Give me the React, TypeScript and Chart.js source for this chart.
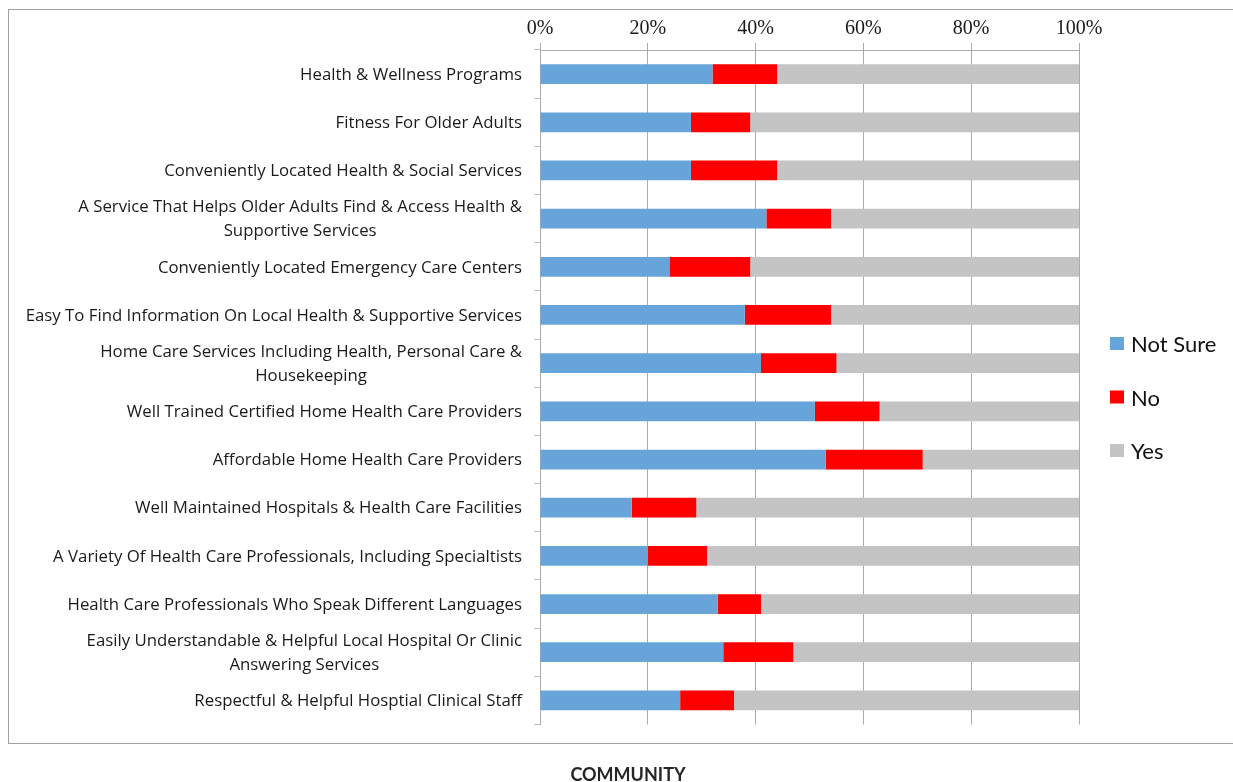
import React, { useEffect, useRef } from 'react';
import { Chart, registerables } from 'chart.js';

Chart.register(...registerables);

const categories: string[][] = [
  ['Health & Wellness Programs'],
  ['Fitness For Older Adults'],
  ['Conveniently Located Health & Social Services'],
  ['A Service That Helps Older Adults Find & Access Health &', 'Supportive Services'],
  ['Conveniently Located Emergency Care Centers'],
  ['Easy To Find Information On Local Health & Supportive Services'],
  ['Home Care Services Including Health, Personal Care &', 'Housekeeping'],
  ['Well Trained Certified Home Health Care Providers'],
  ['Affordable Home Health Care Providers'],
  ['Well Maintained Hospitals & Health Care Facilities'],
  ['A Variety Of Health Care Professionals, Including Specialtists'],
  ['Health Care Professionals Who Speak Different Languages'],
  ['Easily Understandable & Helpful Local Hospital Or Clinic', 'Answering Services'],
  ['Respectful & Helpful Hosptial Clinical Staff'],
];

const notSure = [32, 28, 28, 42, 24, 38, 41, 51, 53, 17, 20, 33, 34, 26];
const no = [12, 11, 16, 12, 15, 16, 14, 12, 18, 12, 11, 8, 13, 10];
const yes = [56, 61, 56, 46, 61, 46, 45, 37, 29, 71, 69, 59, 53, 64];

const xTicks = [0, 20, 40, 60, 80, 100];
const seriesNames = ['Not Sure', 'No', 'Yes'];
const seriesColors = ['#67A4D9', '#FF0000', '#C4C4C4'];
const chartTitle = 'COMMUNITY';

const extrasPlugin = {
  id: 'extras',
  afterDraw(chart: any) {
    const ctx = chart.ctx;
    const yScale = chart.scales.y;
    ctx.save();
    // category labels
    ctx.fillStyle = '#1a1a1a';
    ctx.font = '16.8px "Open Sans"';
    ctx.textBaseline = 'middle';
    ctx.textAlign = 'center';
    const right = chart.chartArea.left - 18;
    categories.forEach((lines, i) => {
      const cy = yScale.getPixelForValue(i) + 1;
      const w = Math.max(...lines.map((l) => ctx.measureText(l).width));
      const cx = right - w / 2;
      lines.forEach((l, j) => {
        ctx.fillText(l, cx, cy + (j - (lines.length - 1) / 2) * 24);
      });
    });
    // legend
    ctx.textAlign = 'left';
    ctx.textBaseline = 'alphabetic';
    ctx.font = '22px Lato';
    chart.data.datasets.forEach((ds: any, i: number) => {
      ctx.fillStyle = ds.backgroundColor;
      ctx.fillRect(1110, 337 + i * 53.5, 14, 13);
      ctx.fillStyle = '#111';
      ctx.fillText(ds.label, 1131, 352 + i * 53.7);
    });
    // title
    ctx.font = 'bold 18px Lato';
    ctx.textAlign = 'center';
    ctx.fillStyle = '#262626';
    ctx.fillText(chartTitle, 628, 781);
    ctx.restore();
  },
};

export default function App() {
  const ref = useRef<HTMLCanvasElement | null>(null);
  useEffect(() => {
    if (!ref.current) return;
    const chart = new Chart(ref.current, {
      type: 'bar',
      data: {
        labels: categories.map((l) => l.join(' ')),
        datasets: seriesNames.map((n, i) => ({
          label: n,
          data: [notSure, no, yes][i],
          backgroundColor: seriesColors[i],
          borderWidth: 0,
          barPercentage: 0.41,
          categoryPercentage: 1,
        })),
      },
      options: {
        indexAxis: 'y',
        responsive: false,
        animation: false,
        devicePixelRatio: 1,
        layout: { padding: { left: 0, right: 154, top: 0, bottom: 57.5 } },
        plugins: {
          legend: { display: false },
          tooltip: { enabled: false },
          title: { display: false },
        },
        scales: {
          x: {
            position: 'top',
            stacked: true,
            min: 0,
            max: 100,
            afterBuildTicks: (s: any) => {
              s.ticks = xTicks.map((v) => ({ value: v }));
            },
            ticks: {
              callback: (v: any) => v + '%',
              font: { family: '"Liberation Serif"', size: 20 },
              color: '#1a1a1a',
              padding: 2,
              maxRotation: 0,
              autoSkip: false,
            },
            grid: { color: '#ababab', tickLength: 7, lineWidth: 1 },
            border: { display: true, color: '#ababab' },
            afterFit: (s: any) => {
              s.height = 50;
            },
          },
          y: {
            stacked: true,
            ticks: { display: false },
            grid: { offset: true, drawOnChartArea: false, tickLength: 6, color: '#bdbdbd' },
            border: { display: true, color: '#ababab' },
            afterFit: (s: any) => {
              s.width = 540;
            },
          },
        },
      } as any,
      plugins: [extrasPlugin],
    });
    return () => chart.destroy();
  }, []);

  return (
    <div
      style={{
        position: 'fixed',
        left: 0,
        top: 0,
        width: 1233,
        height: 782,
        overflow: 'hidden',
        background: '#fff',
      }}
    >
      <div
        style={{
          position: 'absolute',
          left: 8,
          top: 9,
          width: 1260,
          height: 733,
          border: '1px solid #a0a0a0',
        }}
      />
      <canvas
        ref={ref}
        width={1233}
        height={782}
        style={{ position: 'absolute', left: 0, top: 0, width: 1233, height: 782, display: 'block' }}
      />
    </div>
  );
}
